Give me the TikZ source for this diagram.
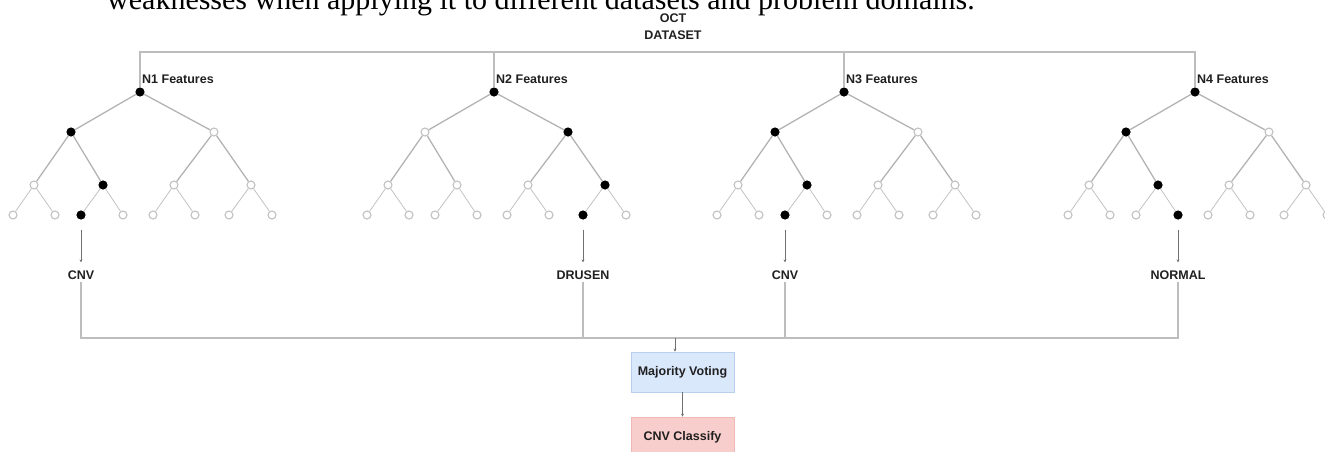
\documentclass[tikz,border=0pt]{standalone}
\usepackage{fontspec}
\setmainfont{Liberation Sans}
\newfontfamily\serifpaper{Liberation Serif}
\usetikzlibrary{arrows.meta}
\definecolor{edgegray}{HTML}{B3B3B3}
\definecolor{leafgray}{HTML}{C2C2C2}
\definecolor{linegray}{HTML}{BDBDBD}
\definecolor{arrowgray}{HTML}{707070}
\definecolor{vbluefill}{HTML}{DAE8FC}
\definecolor{vblueline}{HTML}{B9CFEE}
\definecolor{credfill}{HTML}{F8CECC}
\definecolor{credline}{HTML}{EDB8B6}
\definecolor{labeltext}{HTML}{202020}
\newcommand\octtree[6]{% #1 prefix, #2 root x, #3 L1 filled, #4 L2 filled, #5 L3 filled, #6 label
  \node[treenode,fill=black,draw=black] (#1r) at (#2,92) {};
  \node[flabel,anchor=west] (#1lab) at ({#2+1},79) {#6};
  \foreach \o [count=\i from 0] in {-69,74} {
    \ifnum\i=#3 \def\fc{black}\def\dc{black}\else\def\fc{white}\def\dc{leafgray}\fi
    \node[treenode,fill=\fc,draw=\dc] (#1a\i) at ({#2+(\o)},132) {};
    \draw[edgeup] (#1r) -- (#1a\i);
  }
  \foreach \o [count=\i from 0] in {-106,-37,34,111} {
    \ifnum\i=#4 \def\fc{black}\def\dc{black}\else\def\fc{white}\def\dc{leafgray}\fi
    \pgfmathtruncatemacro\pidx{int(\i/2)}
    \node[treenode,fill=\fc,draw=\dc] (#1b\i) at ({#2+(\o)},185) {};
    \draw[edgeup] (#1a\pidx) -- (#1b\i);
  }
  \foreach \o [count=\i from 0] in {-127,-85,-59,-17,13,55,89,132} {
    \ifnum\i=#5 \def\fc{black}\def\dc{black}\else\def\fc{white}\def\dc{leafgray}\fi
    \pgfmathtruncatemacro\pidx{int(\i/2)}
    \node[treenode,fill=\fc,draw=\dc] (#1c\i) at ({#2+(\o)},215) {};
    \draw[edgelow] (#1b\pidx) -- (#1c\i);
  }
}
\begin{document}
\begin{tikzpicture}[x=1pt,y=-1pt,
  treenode/.style={circle,inner sep=0pt,minimum size=8pt,line width=1.1pt},
  edgeup/.style={draw=edgegray,line width=1.3pt},
  edgelow/.style={draw=leafgray,line width=0.8pt},
  conn/.style={draw=linegray,line width=1.5pt},
  arr/.style={draw=arrowgray,line width=0.7pt,-{Stealth[length=3pt,width=3pt]}},
  flabel/.style={font=\bfseries\fontsize{12.5}{14}\selectfont,text=labeltext,inner sep=1pt},
  clabel/.style={font=\bfseries\fontsize{12.5}{14}\selectfont,text=labeltext,inner sep=2pt},
  vbox/.style={rectangle,minimum width=103pt,minimum height=40pt,line width=0.8pt,font=\bfseries\fontsize{12.5}{14}\selectfont,text=labeltext}]
\useasboundingbox (0,0) rectangle (1325,451);
\clip (0,0) rectangle (1325,451);
\node[anchor=base west,inner sep=0pt,font=\serifpaper\fontsize{30}{34}\selectfont] (sentence) at (107,9) {weaknesses when applying it to different datasets and problem domains.};
\node[align=center,font=\bfseries\fontsize{12.5}{17}\selectfont,text=labeltext,inner sep=0pt] (oct) at (673,26.5) {OCT\\DATASET};
\coordinate (topbar) at (0,52);
\coordinate (botbar) at (0,338);
\octtree{p}{140}{0}{1}{2}{N1 Features}
\octtree{q}{494}{1}{3}{6}{N2 Features}
\octtree{s}{844}{0}{1}{2}{N3 Features}
\octtree{u}{1195}{0}{1}{3}{N4 Features}
\draw[conn] (pr) -- (pr |- topbar) -- (ur |- topbar) -- (ur);
\draw[conn] (qr) -- (qr |- topbar);
\draw[conn] (sr) -- (sr |- topbar);
\node[clabel] (cl1) at (pc2 |- 0,275) {CNV};
\node[clabel] (cl2) at (qc6 |- 0,275) {DRUSEN};
\node[clabel] (cl3) at (sc2 |- 0,275) {CNV};
\node[clabel] (cl4) at (uc3 |- 0,275) {NORMAL};
\foreach \lf/\lb in {pc2/cl1,qc6/cl2,sc2/cl3,uc3/cl4} {
  \draw[arr,shorten <=10pt,shorten >=6pt] (\lf) -- (\lb);
}
\draw[conn] (cl1) -- (cl1 |- botbar) -- (cl4 |- botbar) -- (cl4);
\draw[conn] (cl2) -- (cl2 |- botbar);
\draw[conn] (cl3) -- (cl3 |- botbar);
\node[vbox,fill=vbluefill,draw=vblueline] (mv) at (682.5,372) {Majority Voting};
\node[vbox,fill=credfill,draw=credline] (cc) at (682.5,437) {CNV Classify};
\coordinate (botjoin) at (675,338);
\draw[arr] (botjoin) -- (botjoin |- mv.north);
\draw[arr] (mv) -- (cc);
\end{tikzpicture}
\end{document}
